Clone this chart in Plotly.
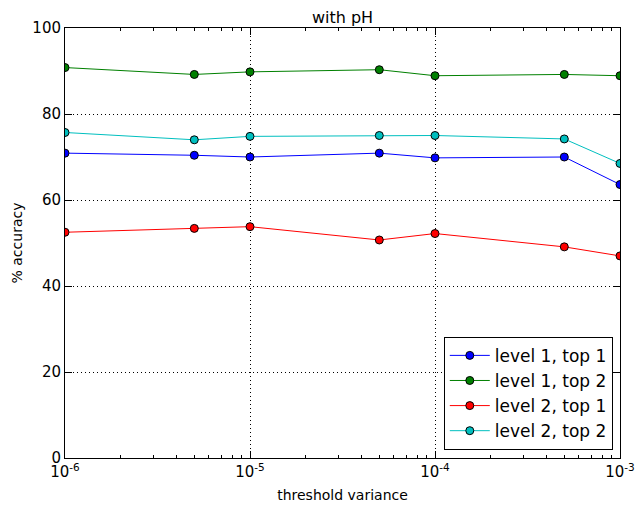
import plotly.graph_objects as go

x_vals = [1e-6, 5e-6, 1e-5, 5e-5, 1e-4, 5e-4, 1e-3]
level1_top1 = [70.9, 70.4, 70.0, 70.9, 69.8, 70.0, 63.6]
level1_top2 = [90.8, 89.2, 89.8, 90.3, 88.9, 89.2, 88.9]
level2_top1 = [52.5, 53.4, 53.8, 50.7, 52.2, 49.1, 47.0]
level2_top2 = [75.7, 74.0, 74.8, 75.0, 75.0, 74.2, 68.5]

series_names = ["level 1, top 1", "level 1, top 2", "level 2, top 1", "level 2, top 2"]
series_colors = ["#0000ff", "#008000", "#ff0000", "#00bfbf"]
series_data = [level1_top1, level1_top2, level2_top1, level2_top2]

x_tickvals = [1e-6, 1e-5, 1e-4, 1e-3]
x_ticktext = ["10<sup>-6</sup>", "10<sup>-5</sup>", "10<sup>-4</sup>", "10<sup>-3</sup>"]
x_minor = [m * 10.0 ** e for e in (-6, -5, -4) for m in range(2, 10)]
y_tickvals = [0, 20, 40, 60, 80, 100]

fig = go.Figure()
for name, color, data in zip(series_names, series_colors, series_data):
    fig.add_trace(go.Scatter(
        x=x_vals, y=data, name=name, mode="lines+markers",
        line=dict(color=color, width=1),
        marker=dict(color=color, size=8, line=dict(color="black", width=1)),
    ))

font = "DejaVu Sans"
fig.update_layout(
    width=636, height=508,
    margin=dict(l=65, r=16, t=28, b=50),
    paper_bgcolor="white", plot_bgcolor="white",
    font=dict(family=font, size=14, color="black"),
    title=dict(text="with pH", x=0.5, xref="paper", xanchor="center",
               y=1, yref="paper", yanchor="bottom", pad=dict(b=5),
               font=dict(family=font, size=16, color="black")),
    showlegend=True,
    legend=dict(x=0.987, y=0.019, xanchor="right", yanchor="bottom",
                bordercolor="black", borderwidth=1, bgcolor="white",
                font=dict(family=font, size=17), tracegroupgap=0,
                itemwidth=40),
    xaxis=dict(type="log", range=[-6, -3], tickmode="array",
               tickvals=x_tickvals, ticktext=x_ticktext, automargin=False,
               ticks="inside", ticklen=7, tickcolor="black", mirror="allticks",
               showline=True, linecolor="black", linewidth=1,
               showgrid=True, gridcolor="black", griddash="1px,3px", gridwidth=1,
               zeroline=False,
               minor=dict(tickmode="array", tickvals=x_minor, ticks="inside",
                          ticklen=3, tickcolor="black", showgrid=False),
               title=dict(text="threshold variance", font=dict(family=font, size=14), standoff=10),
               tickfont=dict(family=font, size=15)),
    yaxis=dict(range=[0, 100], tickmode="array", tickvals=y_tickvals, automargin=False,
               ticks="inside", ticklen=7, tickcolor="black", mirror="allticks",
               showline=True, linecolor="black", linewidth=1,
               showgrid=True, gridcolor="black", griddash="1px,3px", gridwidth=1,
               zeroline=False,
               title=dict(text="% accuracy", font=dict(family=font, size=14), standoff=6),
               tickfont=dict(family=font, size=15)),
)

fig.write_html("out.html")
